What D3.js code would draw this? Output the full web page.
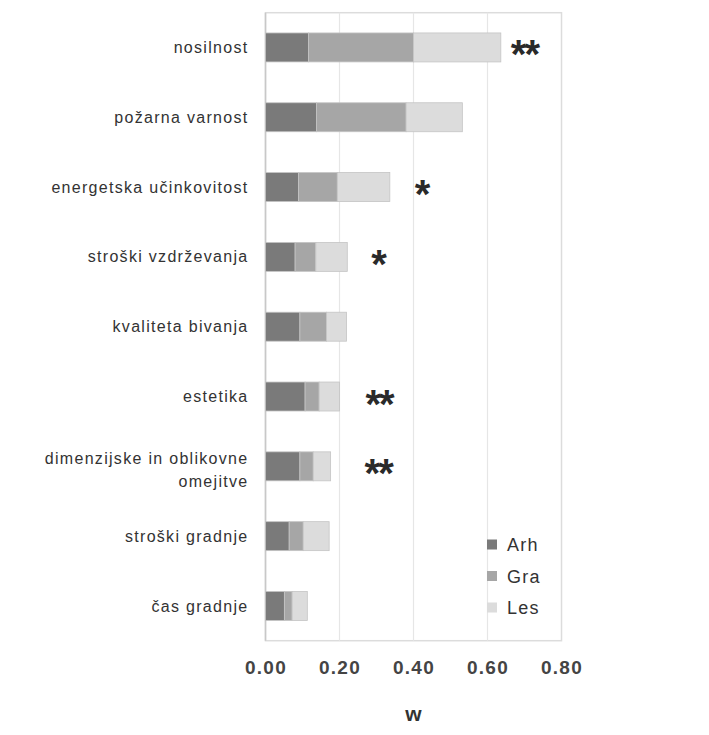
<!DOCTYPE html>
<html>
<head>
<meta charset="utf-8">
<script src="https://cdn.jsdelivr.net/npm/d3@7"></script>
<style>
  html, body { margin: 0; padding: 0; background: #fff; }
  svg { display: block; }
</style>
</head>
<body>
<svg id="chart" width="709" height="735"></svg>
<script>
// Criteria (top to bottom)
const categories = [
  "nosilnost",
  "požarna varnost",
  "energetska učinkovitost",
  "stroški vzdrževanja",
  "kvaliteta bivanja",
  "estetika",
  "dimenzijske in oblikovne omejitve",
  "stroški gradnje",
  "čas gradnje"
];
// Weight contributions per group
const arh = [0.116, 0.138, 0.089, 0.080, 0.093, 0.107, 0.093, 0.064, 0.051];
const gra = [0.284, 0.242, 0.105, 0.056, 0.072, 0.038, 0.036, 0.038, 0.021];
const les = [0.236, 0.152, 0.142, 0.085, 0.054, 0.055, 0.047, 0.070, 0.041];
const seriesNames = ["Arh", "Gra", "Les"];
// Significance markers
const significance = ["**", "", "*", "*", "", "**", "**", "", ""];
const xTicks = [0, 0.2, 0.4, 0.6, 0.8];

const svg = d3.select("#chart");
const W = 709, H = 735;
const m = { left: 265.5, right: W - 561.5, top: 12.7, bottom: H - 640.7 };
const FONT = "'Liberation Sans', Arial, sans-serif";

const x = d3.scaleLinear().domain([0, 0.8]).range([m.left, W - m.right]);
const y = d3.scaleBand().domain(categories).range([m.top, H - m.bottom])
  .paddingInner(0.585).paddingOuter(0.29);

const colors = d3.scaleOrdinal().domain(seriesNames).range(["#7a7a7a", "#a6a6a6", "#dcdcdc"]);

const rows = categories.map((c, i) => ({ cat: c, Arh: arh[i], Gra: gra[i], Les: les[i] }));
const stacked = d3.stack().keys(seriesNames)(rows);

// Plot frame and grid
svg.append("rect")
  .attr("x", x(0)).attr("y", m.top)
  .attr("width", x(0.8) - x(0)).attr("height", H - m.bottom - m.top)
  .attr("fill", "#fff").attr("stroke", "#dcdcdc").attr("stroke-width", 1.5);

svg.append("g").selectAll("line")
  .data(xTicks.filter(t => t > 0 && t < 0.8))
  .join("line")
  .attr("x1", d => x(d)).attr("x2", d => x(d))
  .attr("y1", m.top).attr("y2", H - m.bottom)
  .attr("stroke", "#e6e6e6").attr("stroke-width", 1.2);

svg.append("line")
  .attr("x1", x(0)).attr("x2", x(0))
  .attr("y1", m.top).attr("y2", H - m.bottom)
  .attr("stroke", "#c8c8c8").attr("stroke-width", 1.5);

// Stacked bars
svg.append("g").selectAll("g")
  .data(stacked)
  .join("g")
  .attr("fill", d => colors(d.key))
  .selectAll("rect")
  .data(d => d)
  .join("rect")
  .attr("x", d => x(d[0]))
  .attr("y", d => y(d.data.cat))
  .attr("width", d => x(d[1]) - x(d[0]))
  .attr("height", y.bandwidth())
  .attr("stroke", "#c4c4c4").attr("stroke-width", 0.8);

// Significance asterisks, placed after each bar
const starGap = [10, 0, 25, 24, 0, 26, 34, 0, 0];
svg.append("g").selectAll("text")
  .data(rows.map((r, i) => ({ r, i })).filter(d => significance[d.i]))
  .join("text")
  .attr("x", d => x(d.r.Arh + d.r.Gra + d.r.Les) + starGap[d.i])
  .attr("y", d => y(d.r.cat) + y.bandwidth() / 2 + 21)
  .attr("font-family", FONT)
  .attr("font-size", 40).attr("font-weight", "bold")
  .attr("letter-spacing", -2)
  .attr("fill", "#2a2a2a")
  .text(d => significance[d.i]);

// Category labels
const yAxis = svg.append("g").attr("transform", `translate(${x(0)},0)`)
  .call(d3.axisLeft(y).tickSize(0).tickFormat(""));
yAxis.select(".domain").remove();
yAxis.selectAll(".tick").each(function (d) {
  const t = d3.select(this).append("text")
    .attr("x", -17).attr("text-anchor", "end")
    .attr("font-family", FONT)
    .attr("font-size", 16).attr("letter-spacing", 1.3)
    .attr("fill", "#333");
  if (d === "dimenzijske in oblikovne omejitve") {
    t.append("tspan").attr("x", -17).attr("dy", "-0.15em").text("dimenzijske in oblikovne");
    t.append("tspan").attr("x", -17).attr("dy", "1.45em").text("omejitve");
  } else {
    t.attr("dy", "0.35em").text(d);
  }
});

// X axis
const xAxis = svg.append("g").attr("transform", `translate(0,${H - m.bottom})`)
  .call(d3.axisBottom(x).tickValues(xTicks).tickFormat(d3.format(".2f")).tickSize(0).tickPadding(20));
xAxis.select(".domain").remove();
xAxis.selectAll("text")
  .attr("font-family", FONT)
  .attr("font-size", 19).attr("font-weight", "bold").attr("letter-spacing", 1.3)
  .attr("fill", "#444");

svg.append("text")
  .attr("x", (x(0) + x(0.8)) / 2).attr("y", 721)
  .attr("text-anchor", "middle")
  .attr("font-family", FONT)
  .attr("font-size", 21).attr("font-weight", "bold")
  .attr("fill", "#333")
  .text("w");

// Legend
const legend = svg.append("g").attr("transform", "translate(487,545)");
seriesNames.forEach((s, i) => {
  const g = legend.append("g").attr("transform", `translate(0,${i * 31.5})`);
  g.append("rect").attr("x", 0).attr("y", -5.5).attr("width", 10).attr("height", 10)
    .attr("fill", colors(s));
  g.append("text").attr("x", 20).attr("dy", "0.35em")
    .attr("font-family", FONT)
    .attr("font-size", 18).attr("letter-spacing", 1.2)
    .attr("fill", "#333")
    .text(s);
});
</script>
</body>
</html>
